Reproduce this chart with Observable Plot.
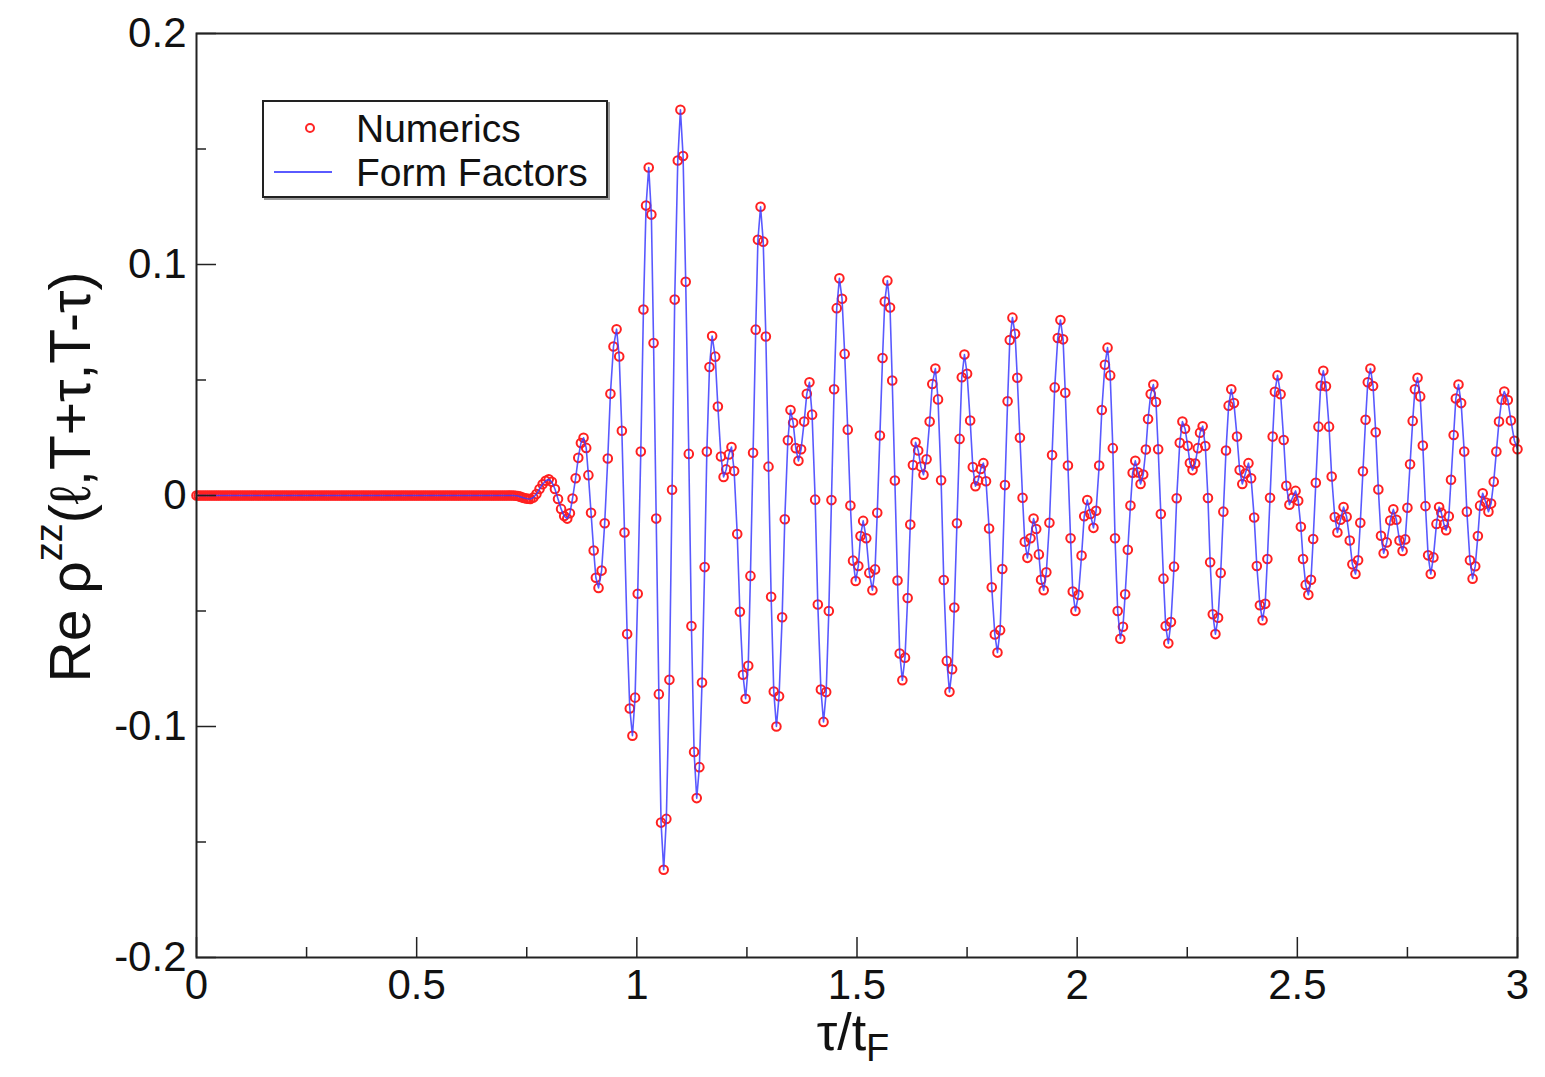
<!DOCTYPE html>
<html>
<head>
<meta charset="utf-8">
<script src="https://cdn.jsdelivr.net/npm/d3@7"></script>
<script src="https://cdn.jsdelivr.net/npm/@observablehq/plot@0.6"></script>
<style>
  html, body { margin: 0; padding: 0; background: #fff; }
  #wrap { position: relative; width: 1545px; height: 1077px; overflow: hidden; font-family: "Liberation Sans", Arial, sans-serif; color: #111; }
  #legend { position: absolute; left: 262px; top: 100px; width: 342px; height: 94px; border: 2px solid #222; box-shadow: 2px 2px 0 #999; background: #fff; }
  #legend .txt { position: absolute; left: 92px; font-size: 39px; line-height: 1; white-space: nowrap; }
  #legend .mk { position: absolute; left: 41px; top: 21px; width: 6px; height: 6px; border: 2px solid #ff2424; border-radius: 50%; }
  #legend .ln { position: absolute; left: 10px; top: 69px; width: 58px; height: 2px; background: #5a5aff; }
  #ylab { position: absolute; left: 69px; top: 477px; transform: translate(-50%, -50%) rotate(-90deg); font-size: 57px; white-space: nowrap; }
  #ylab sup { font-size: 38px; position: relative; top: -8px; }
  #xlab { position: absolute; left: 853px; top: 1002px; transform: translateX(-50%); font-size: 52px; white-space: nowrap; }
  #xlab sub { font-size: 38px; }
</style>
</head>
<body>
<div id="wrap">
  <div id="chart"></div>
  <div id="legend">
    <div class="mk"></div><div class="txt" style="top:7px">Numerics</div>
    <div class="ln"></div><div class="txt" style="top:51px">Form Factors</div>
  </div>
  <div id="ylab">Re ρ<sup>zz</sup>(ℓ,T+τ,T-τ)</div>
  <div id="xlab">τ/t<sub>F</sub></div>
</div>
<script>
// tick values
const xMajor = [0, 0.5, 1, 1.5, 2, 2.5, 3];
const xMinor = [0.25, 0.75, 1.25, 1.75, 2.25, 2.75];
const yMajor = [-0.2, -0.1, 0, 0.1, 0.2];
const yMinor = [-0.15, -0.05, 0.05, 0.15];

// tau / t_F sample positions
const tau = [
0.000,0.005,0.010,0.015,0.020,0.025,0.030,0.035,0.040,0.045,0.050,0.055,0.060,0.065,0.070,0.075,0.080,0.085,0.090,0.095,
0.100,0.105,0.110,0.115,0.120,0.125,0.130,0.135,0.140,0.145,0.150,0.155,0.160,0.165,0.170,0.175,0.180,0.185,0.190,0.195,
0.200,0.205,0.210,0.215,0.220,0.225,0.230,0.235,0.240,0.245,0.250,0.255,0.260,0.265,0.270,0.275,0.280,0.285,0.290,0.295,
0.300,0.305,0.310,0.315,0.320,0.325,0.330,0.335,0.340,0.345,0.350,0.355,0.360,0.365,0.370,0.375,0.380,0.385,0.390,0.395,
0.400,0.405,0.410,0.415,0.420,0.425,0.430,0.435,0.440,0.445,0.450,0.455,0.460,0.465,0.470,0.475,0.480,0.485,0.490,0.495,
0.500,0.505,0.510,0.515,0.520,0.525,0.530,0.535,0.540,0.545,0.550,0.555,0.560,0.565,0.570,0.575,0.580,0.585,0.590,0.595,
0.600,0.605,0.610,0.615,0.620,0.625,0.630,0.635,0.640,0.645,0.650,0.655,0.660,0.665,0.670,0.675,0.680,0.685,0.690,0.695,
0.700,0.705,0.710,0.715,0.720,
0.725,0.730,0.735,0.739,0.744,0.749,0.753,0.758,
0.765,0.772,0.779,0.786,0.793,0.800,
0.807,0.814,0.821,0.828,0.835,0.842,
0.848,0.854,0.861,0.867,0.873,0.879,
0.885,0.890,0.896,0.902,0.907,0.913,
0.920,0.927,0.934,0.940,0.947,0.954,
0.960,0.966,0.972,0.978,0.984,0.990,
0.996,1.002,1.009,1.015,1.021,1.027,
1.033,1.038,1.044,1.050,1.055,1.061,
1.067,1.074,1.080,1.086,1.093,1.099,
1.105,1.111,1.118,1.124,1.130,1.136,
1.142,1.148,1.154,1.159,1.165,1.171,
1.178,1.184,1.191,1.197,
1.203,1.209,1.215,
1.221,1.228,1.234,1.241,1.247,
1.253,1.258,1.264,1.270,1.275,1.281,
1.287,1.293,1.299,1.305,1.311,1.317,
1.323,1.330,1.336,1.343,1.349,
1.355,1.361,1.367,
1.373,1.380,1.386,1.392,
1.398,1.405,1.411,1.418,1.424,
1.430,1.436,1.442,1.448,1.454,1.460,
1.466,1.472,1.479,1.485,1.491,1.497,
1.503,1.508,1.514,
1.521,1.528,1.535,
1.541,1.546,1.552,1.558,1.563,1.569,
1.575,1.580,1.586,1.592,1.597,1.603,
1.609,1.615,1.621,1.627,1.633,
1.639,1.645,1.651,
1.658,1.665,1.671,1.678,
1.684,1.691,1.697,1.704,1.710,
1.716,1.721,1.727,1.733,1.738,1.744,
1.750,1.757,1.763,1.769,
1.775,1.781,1.787,
1.793,1.800,1.806,1.813,1.819,
1.825,1.830,1.836,1.842,1.847,1.853,
1.859,1.864,1.870,1.876,1.881,1.887,
1.894,1.901,
1.907,1.913,1.918,1.924,
1.930,1.937,1.943,1.949,1.956,1.962,
1.968,1.973,1.979,1.985,1.990,1.996,
2.003,2.010,2.016,2.023,
2.030,2.037,
2.043,2.050,2.056,2.063,2.069,
2.075,2.081,2.086,2.092,2.098,
2.104,2.109,2.115,2.121,2.126,2.132,
2.138,2.144,
2.150,2.156,2.161,2.167,2.173,
2.179,2.184,2.190,2.196,2.201,2.207,
2.213,2.220,2.226,2.233,2.239,
2.245,2.251,2.256,2.262,
2.268,2.274,2.279,2.285,
2.291,2.297,2.302,2.308,2.314,
2.320,2.326,2.332,2.338,2.344,2.350,
2.356,2.363,2.369,2.375,
2.382,2.389,
2.395,2.402,2.408,2.415,2.421,
2.427,2.432,2.438,2.444,2.449,2.455,
2.462,2.469,2.475,2.482,
2.489,2.496,
2.502,2.508,2.513,2.519,2.525,
2.531,2.536,2.542,2.548,2.553,2.559,
2.565,2.572,2.578,2.585,2.591,
2.598,2.605,
2.612,2.619,2.625,2.632,
2.638,2.643,2.649,2.655,2.660,2.666,
2.672,2.678,2.684,2.690,2.696,
2.703,2.711,2.718,
2.725,2.732,2.739,
2.745,2.750,2.756,2.762,2.767,2.773,
2.779,2.785,2.791,2.797,2.803,
2.809,2.816,2.822,
2.827,2.833,2.838,
2.844,2.849,2.855,2.860,2.866,
2.872,2.879,2.885,2.892,2.898,
2.904,2.910,2.915,2.921,
2.928,2.934,
2.940,2.946,2.952,2.958,2.964,2.970,
2.978,2.985,2.993,3.000
];

// Re rho^zz values (numerics; the form-factor curve passes through them)
const numerics = [
0,0,0,0,0,0,0,0,0,0,0,0,0,0,0,0,0,0,0,0,
0,0,0,0,0,0,0,0,0,0,0,0,0,0,0,0,0,0,0,0,
0,0,0,0,0,0,0,0,0,0,0,0,0,0,0,0,0,0,0,0,
0,0,0,0,0,0,0,0,0,0,0,0,0,0,0,0,0,0,0,0,
0,0,0,0,0,0,0,0,0,0,0,0,0,0,0,0,0,0,0,0,
0,0,0,0,0,0,0,0,0,0,0,0,0,0,0,0,0,0,0,0,
0,0,0,0,0,0,0,0,0,0,0,0,0,0,0,0,0,0,0,0,
0,0,0,0,0,
-0.0001,-0.0002,-0.0005,-0.0008,-0.0011,-0.0013,-0.0014,-0.0015,
-0.0009,0.0006,0.0028,0.0049,0.0064,0.007,
0.0059,0.0028,-0.0015,-0.0058,-0.0089,-0.010,
-0.0077,-0.0013,0.0075,0.0163,0.0227,0.025,
0.0206,0.0088,-0.0075,-0.0238,-0.0356,-0.040,
-0.0325,-0.012,0.016,0.044,0.0645,0.072,
0.0602,0.028,-0.016,-0.060,-0.0922,-0.104,
-0.0875,-0.0425,0.019,0.0805,0.1255,0.142,
0.1216,0.066,-0.010,-0.086,-0.1416,-0.162,
-0.140,-0.0798,0.0025,0.0848,0.145,0.167,
0.147,0.0925,0.018,-0.0565,-0.111,-0.131,
-0.1176,-0.081,-0.031,0.019,0.0556,0.069,
0.0601,0.0385,0.0169,0.008,
0.0113,0.0178,0.021,
0.0106,-0.0167,-0.0503,-0.0776,-0.088,
-0.0737,-0.0348,0.0185,0.0718,0.1107,0.125,
0.1099,0.0688,0.0125,-0.0438,-0.0849,-0.100,
-0.0869,-0.0527,-0.0103,0.0239,0.037,
0.0315,0.0205,0.015,
0.020,0.032,0.044,0.049,
0.035,-0.0018,-0.0472,-0.084,-0.098,
-0.0851,-0.050,-0.002,0.046,0.0811,0.094,
0.0852,0.0613,0.0285,-0.0043,-0.0282,-0.037,
-0.0305,-0.0175,-0.011,
-0.0185,-0.0335,-0.041,
-0.032,-0.0075,0.026,0.0595,0.084,0.093,
0.0814,0.0498,0.0065,-0.0368,-0.0684,-0.080,
-0.0702,-0.0444,-0.0126,0.0132,0.023,
0.0195,0.0125,0.009,
0.0157,0.032,0.0483,0.055,
0.0416,0.0066,-0.0366,-0.0716,-0.085,
-0.0752,-0.0485,-0.012,0.0245,0.0512,0.061,
0.0527,0.0325,0.0123,0.004,
0.0065,0.0115,0.014,
0.0062,-0.0143,-0.0397,-0.0602,-0.068,
-0.0583,-0.0318,0.0045,0.0408,0.0673,0.077,
0.070,0.051,0.025,-0.001,-0.020,-0.027,
-0.0185,-0.010,
-0.0145,-0.0255,-0.0365,-0.041,
-0.0332,-0.0118,0.0175,0.0468,0.0682,0.076,
0.0676,0.0445,0.013,-0.0185,-0.0416,-0.050,
-0.043,-0.026,-0.009,-0.002,
-0.008,-0.014,
-0.0066,0.013,0.037,0.0566,0.064,
0.052,0.0205,-0.0185,-0.050,-0.062,
-0.0568,-0.0428,-0.0235,-0.0043,0.0098,0.015,
0.010,0.005,
0.0091,0.0199,0.0331,0.0439,0.048,
0.0405,0.020,-0.008,-0.036,-0.0565,-0.064,
-0.0548,-0.0308,-0.0012,0.0228,0.032,
0.0289,0.0215,0.0141,0.011,
0.0138,0.0205,0.0272,0.030,
0.0214,-0.0011,-0.0289,-0.0514,-0.060,
-0.0529,-0.0335,-0.007,0.0195,0.0389,0.046,
0.040,0.0255,0.011,0.005,
0.0095,0.014,
0.0075,-0.0095,-0.0305,-0.0475,-0.054,
-0.0469,-0.0275,-0.001,0.0255,0.0449,0.052,
0.0438,0.024,0.0042,-0.004,
-0.001,0.002,
-0.0023,-0.0135,-0.0275,-0.0387,-0.043,
-0.0365,-0.0188,0.0055,0.0298,0.0475,0.054,
0.0473,0.0298,0.0082,-0.0093,-0.016,
-0.0105,-0.005,
-0.0092,-0.0195,-0.0298,-0.034,
-0.028,-0.0118,0.0105,0.0328,0.049,0.055,
0.0474,0.0274,0.0026,-0.0174,-0.025,
-0.0203,-0.0108,-0.006,
-0.0105,-0.0195,-0.024,
-0.019,-0.0053,0.0135,0.0323,0.046,0.051,
0.0429,0.0216,-0.0046,-0.0259,-0.034,
-0.0268,-0.0123,-0.005,
-0.0075,-0.0125,-0.015,
-0.009,0.0068,0.0262,0.042,0.048,
0.040,0.019,-0.007,-0.028,-0.036,
-0.0306,-0.0175,-0.0044,0.001,
-0.003,-0.007,
-0.0035,0.006,0.019,0.032,0.0415,0.045,
0.0413,0.0325,0.0237,0.020
];
const formFactors = numerics;

const pts = tau.map((t, i) => ({tau: t, num: numerics[i], ff: formFactors[i]}));
const fmt = d => String(d);

const chart = Plot.plot({
  width: 1545,
  height: 1077,
  marginLeft: 196,
  marginRight: 28,
  marginTop: 33,
  marginBottom: 120,
  style: {fontFamily: "'Liberation Sans', Arial, sans-serif", fontSize: "42px", color: "#111", background: "transparent", overflow: "visible"},
  x: {domain: [0, 3], label: null},
  y: {domain: [-0.2, 0.2], label: null},
  marks: [
    Plot.dot(pts, {x: "tau", y: "num", r: 4.3, stroke: "#ff2020", strokeWidth: 2, fill: "none"}),
    Plot.line(pts, {x: "tau", y: "ff", stroke: "#3c3cff", strokeWidth: 1.6, strokeOpacity: 0.85}),
    Plot.frame({stroke: "#222", strokeWidth: 2}),
    Plot.axisX({ticks: xMajor, anchor: "bottom", tickSize: 0, tickPadding: 12, tickFormat: fmt, fontSize: 42, label: null}),
    Plot.axisX({ticks: xMajor, anchor: "bottom", tickSize: 20, dy: -20, tickFormat: () => "", label: null, stroke: "#222", strokeWidth: 1.5}),
    Plot.axisX({ticks: xMinor, anchor: "bottom", tickSize: 10, dy: -10, tickFormat: () => "", label: null, stroke: "#222", strokeWidth: 1.5}),
    Plot.axisY({ticks: yMajor, anchor: "left", tickSize: 0, tickPadding: 10, tickFormat: fmt, fontSize: 42, label: null}),
    Plot.axisY({ticks: yMajor, anchor: "left", tickSize: 20, dx: 20, tickFormat: () => "", label: null, stroke: "#222", strokeWidth: 1.5}),
    Plot.axisY({ticks: yMinor, anchor: "left", tickSize: 10, dx: 10, tickFormat: () => "", label: null, stroke: "#222", strokeWidth: 1.5})
  ]
});
document.getElementById("chart").appendChild(chart);
</script>
</body>
</html>
